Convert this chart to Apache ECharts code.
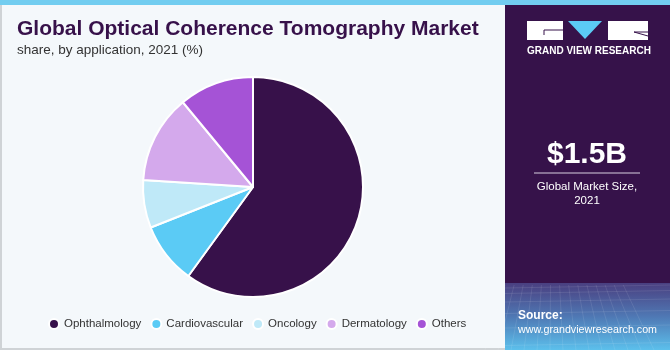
<!DOCTYPE html>
<html><head><meta charset="utf-8">
<script src="https://cdn.jsdelivr.net/npm/echarts@6/dist/echarts.min.js"></script>
<style>html,body{margin:0;padding:0;background:#f4f8fb}#c{width:670px;height:350px}</style>
</head><body><div id="c"></div>
<script>
const categories = ["Ophthalmology", "Cardiovascular", "Oncology", "Dermatology", "Others"];
const shares = [60, 9, 7, 13, 11];
const colors = ["#37114a", "#5bcbf5", "#bfe9f8", "#d4a9ec", "#a553d6"];
const titleText = "Global Optical Coherence Tomography Market";
const subtitleText = "share, by application, 2021 (%)";
const marketSize = "$1.5B";
const marketLabel = ["Global Market Size,", "2021"];

const chart = echarts.init(document.getElementById('c'));
const gridLines = [];
for (let i = 0; i < 14; i++) {
  gridLines.push({type:'line', shape:{x1:505 + i*13 - 20, y1:350, x2:505 + i*13*0.7, y2:285}, style:{stroke:'rgba(255,255,255,0.12)', lineWidth:0.8}, silent:true});
}
for (let j = 0; j < 7; j++) {
  const y = 288 + j*j*1.5 + j*4;
  gridLines.push({type:'line', shape:{x1:505, y1:y, x2:670, y2:y - 3}, style:{stroke:'rgba(255,255,255,0.12)', lineWidth:0.8}, silent:true});
}
chart.setOption({
  backgroundColor: '#f4f8fb',
  animation: false,
  color: colors,
  graphic: [
    {type:'rect', shape:{x:0,y:0,width:670,height:350}, style:{fill:'#f4f8fb'}, z:-10, silent:true},
    {type:'rect', shape:{x:0,y:0,width:2,height:350}, style:{fill:'#cfd3d6'}, z:-5, silent:true},
    {type:'rect', shape:{x:0,y:348,width:505,height:2}, style:{fill:'#cfd3d6'}, z:-5, silent:true},
    {type:'rect', shape:{x:505,y:0,width:165,height:350}, style:{fill:'#36124a'}, z:-5, silent:true},
    {type:'rect', shape:{x:505,y:283,width:165,height:67}, style:{fill:{type:'linear',x:0,y:0,x2:0,y2:1,colorStops:[{offset:0,color:'#4a3f80'},{offset:0.5,color:'#4f78b4'},{offset:1,color:'#5cc0ec'}]}}, z:-4, silent:true},
    ...gridLines,
    {type:'rect', shape:{x:0,y:0,width:670,height:5}, style:{fill:'#72cdf0'}, z:10, silent:true},
    // logo
    {type:'rect', shape:{x:527,y:21,width:36,height:19}, style:{fill:'#ffffff'}, silent:true},
    {type:'line', shape:{x1:544,y1:30,x2:563,y2:30}, style:{stroke:'#36124a', lineWidth:1}, silent:true},
    {type:'line', shape:{x1:544,y1:30,x2:544,y2:35}, style:{stroke:'#36124a', lineWidth:1}, silent:true},
    {type:'polygon', shape:{points:[[568,21],[602,21],[585,39]]}, style:{fill:'#5bcbf5'}, silent:true},
    {type:'rect', shape:{x:608,y:21,width:40,height:19}, style:{fill:'#ffffff'}, silent:true},
    {type:'line', shape:{x1:634,y1:32,x2:648,y2:36}, style:{stroke:'#36124a', lineWidth:1}, silent:true},
    {type:'line', shape:{x1:634,y1:32,x2:648,y2:32}, style:{stroke:'#36124a', lineWidth:1}, silent:true},
    {type:'text', left:527, top:46, style:{text:'GRAND VIEW RESEARCH', fill:'#ffffff', font:'bold 10px "Liberation Sans", Arial', }, silent:true},
    {type:'text', x:587, y:155, style:{text:marketSize, fill:'#ffffff', font:'bold 30px "Liberation Sans", Arial', textAlign:'center', textVerticalAlign:'middle'}, silent:true},
    {type:'line', shape:{x1:534,y1:173,x2:640,y2:173}, style:{stroke:'#d8cfe0', lineWidth:1}, silent:true},
    {type:'text', x:587, y:187, style:{text:marketLabel[0], fill:'#ffffff', font:'11.5px "Liberation Sans", Arial', textAlign:'center', textVerticalAlign:'middle'}, silent:true},
    {type:'text', x:587, y:201, style:{text:marketLabel[1], fill:'#ffffff', font:'11.5px "Liberation Sans", Arial', textAlign:'center', textVerticalAlign:'middle'}, silent:true},
    {type:'text', x:518, y:316, style:{text:'Source:', fill:'#ffffff', font:'bold 12px "Liberation Sans", Arial', textVerticalAlign:'middle'}, silent:true},
    {type:'text', x:518, y:330, style:{text:'www.grandviewresearch.com', fill:'#ffffff', font:'10.7px "Liberation Sans", Arial', textVerticalAlign:'middle'}, silent:true},
    {type:'text', x:17, y:29, style:{text:titleText, fill:'#37114a', font:'900 21px "Liberation Sans", Arial', textVerticalAlign:'middle'}, silent:true},
    {type:'text', x:17, y:50, style:{text:subtitleText, fill:'#333333', font:'13.5px "Liberation Sans", Arial', textVerticalAlign:'middle'}, silent:true}
  ],
  legend: {
    data: categories,
    bottom: 15,
    left: 43,
    icon: 'circle',
    itemWidth: 10,
    itemHeight: 10,
    itemGap: 9,
    textStyle: {color:'#333333', fontSize:11.5, fontFamily:'"Liberation Sans", Arial'}
  },
  series: [{
    type: 'pie',
    center: [253, 187],
    radius: 110,
    startAngle: 90,
    clockwise: true,
    label: {show:false},
    labelLine: {show:false},
    itemStyle: {borderColor:'#ffffff', borderWidth:2},
    data: categories.map((c,i)=>({name:c, value:shares[i]}))
  }]
});
</script></body></html>
